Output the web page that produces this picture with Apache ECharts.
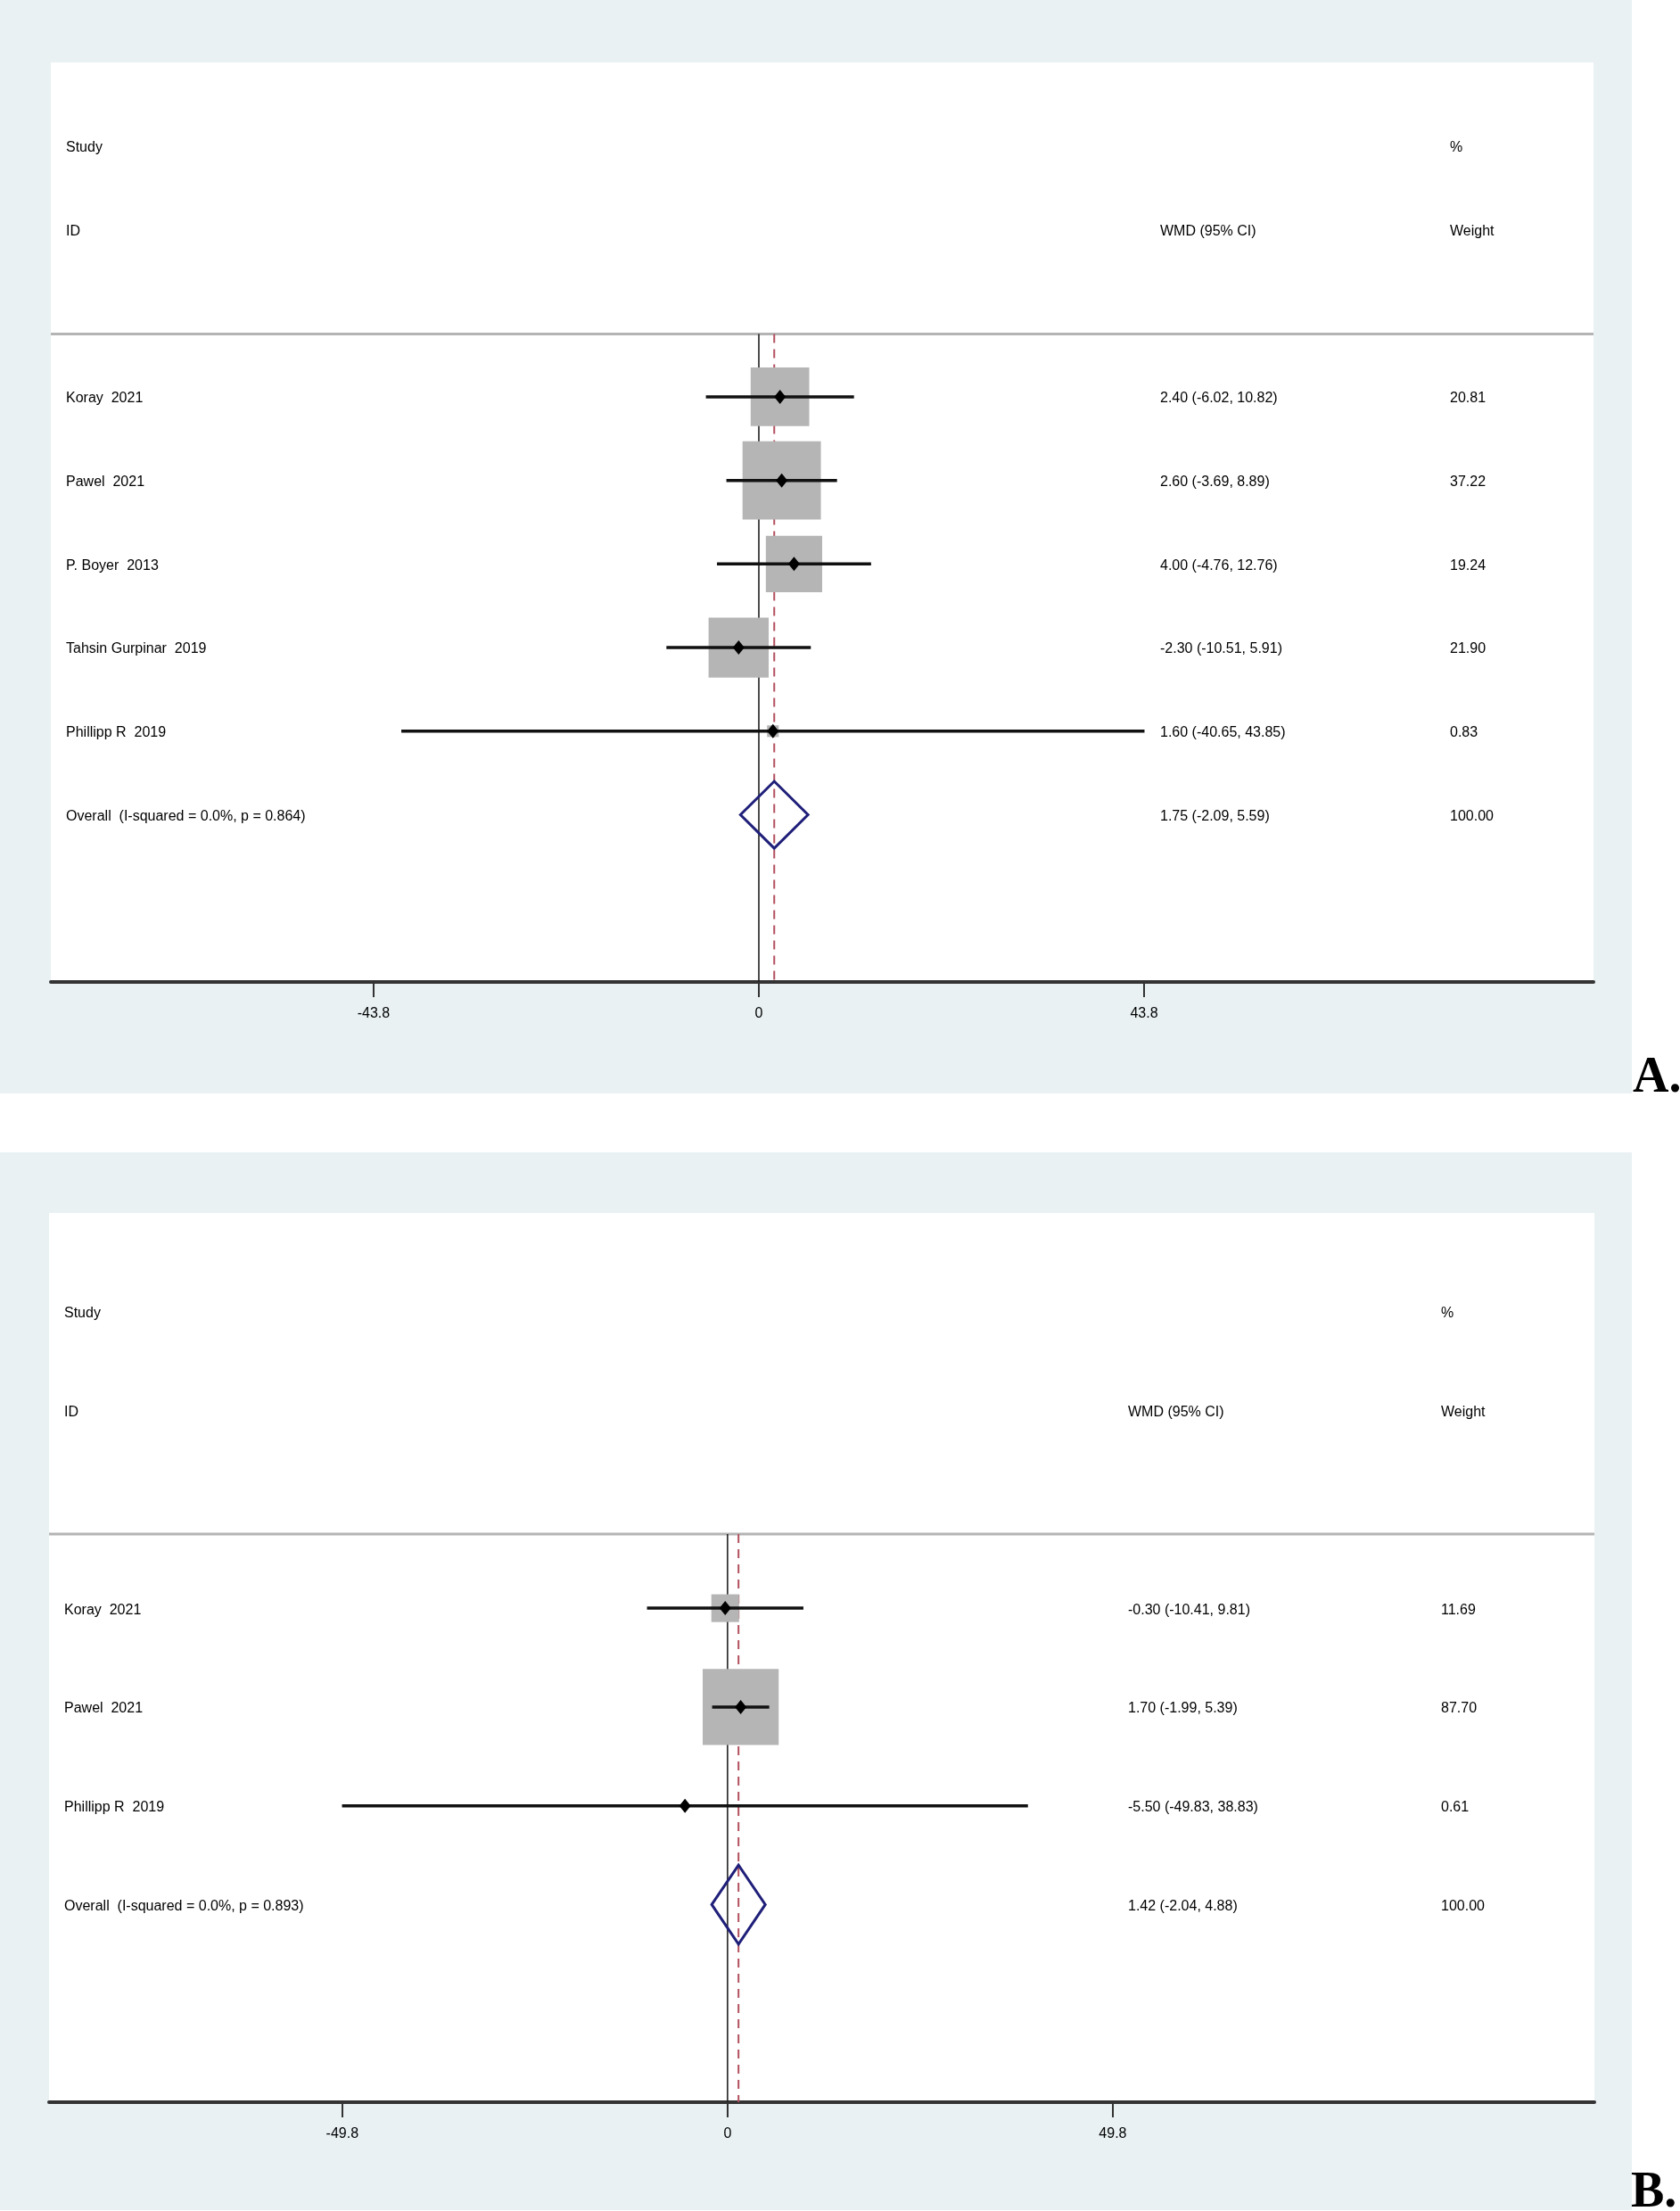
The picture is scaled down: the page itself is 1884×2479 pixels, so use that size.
<!DOCTYPE html>
<html>
<head>
<meta charset="utf-8">
<script src="https://cdn.jsdelivr.net/npm/echarts@6/dist/echarts.min.js"></script>
<style>
  html, body { margin: 0; padding: 0; background: #fff; }
  #chart { width: 1884px; height: 2479px; }
</style>
</head>
<body>
<div id="chart"></div>
<script>
// Panel A - five studies
const studiesA = ['Koray  2021', 'Pawel  2021', 'P. Boyer  2013', 'Tahsin Gurpinar  2019', 'Phillipp R  2019'];
const effectA = [2.40, 2.60, 4.00, -2.30, 1.60];
const lowerA = [-6.02, -3.69, -4.76, -10.51, -40.65];
const upperA = [10.82, 8.89, 12.76, 5.91, 43.85];
const weightA = [20.81, 37.22, 19.24, 21.90, 0.83];
const overallA = { label: 'Overall  (I-squared = 0.0%, p = 0.864)', est: 1.75, lo: -2.09, hi: 5.59, weight: 100.00 };
const ticksA = [-43.8, 0, 43.8];

// Panel B - three studies
const studiesB = ['Koray  2021', 'Pawel  2021', 'Phillipp R  2019'];
const effectB = [-0.30, 1.70, -5.50];
const lowerB = [-10.41, -1.99, -49.83];
const upperB = [9.81, 5.39, 38.83];
const weightB = [11.69, 87.70, 0.61];
const overallB = { label: 'Overall  (I-squared = 0.0%, p = 0.893)', est: 1.42, lo: -2.04, hi: 4.88, weight: 100.00 };
const ticksB = [-49.8, 0, 49.8];

const FONT = '"Liberation Sans", Arial, sans-serif';
const BG = '#e9f1f3';

// layout for each panel (pixels / axis ranges)
const panels = [
  {
    studies: studiesA, effect: effectA, lower: lowerA, upper: upperA, weight: weightA,
    overall: overallA, ticks: ticksA,
    grid: { left: 57, top: 70, width: 1730, height: 1031 },
    xMin: -80.5, xMax: 94.9, yMax: 10,
    boxScale: 14.4,
    colX: [74, 1301, 1626]
  },
  {
    studies: studiesB, effect: effectB, lower: lowerB, upper: upperB, weight: weightB,
    overall: overallB, ticks: ticksB,
    grid: { left: 55, top: 1360, width: 1733, height: 997 },
    xMin: -87.7, xMax: 112.05, yMax: 8,
    boxScale: 9.1,
    colX: [72, 1265, 1616]
  }
];

const SEP = 2.25; // row position of the header rule

const grids = [];
const xAxes = [];
const yAxes = [];
const series = [];

panels.forEach((p, k) => {
  grids.push({ ...p.grid, show: true, backgroundColor: '#fff', borderWidth: 0 });

  xAxes.push({
    gridIndex: k,
    type: 'value',
    min: p.xMin,
    max: p.xMax,
    splitLine: { show: false },
    axisLine: { show: true, onZero: false, lineStyle: { color: '#333', width: 4 } },
    axisTick: { show: true, customValues: p.ticks, length: 17, lineStyle: { color: '#333', width: 2 } },
    axisLabel: {
      customValues: p.ticks,
      formatter: (v) => String(v),
      fontSize: 16,
      fontFamily: FONT,
      color: '#000',
      margin: 28
    }
  });

  yAxes.push({ gridIndex: k, type: 'value', inverse: true, min: -1, max: p.yMax, show: false });

  const rows = p.studies.map((_, i) => 3 + i);
  const overallRow = 3 + p.studies.length;
  const base = { xAxisIndex: k, yAxisIndex: k, silent: true, animation: false };

  // header rule
  series.push({
    ...base, type: 'line', z: 1, symbol: 'none',
    data: [[p.xMin, SEP], [p.xMax, SEP]],
    lineStyle: { color: '#b4b4b4', width: 3 }
  });

  // no-effect line
  series.push({
    ...base, type: 'line', z: 2, symbol: 'none',
    data: [[0, SEP], [0, p.yMax]],
    lineStyle: { color: '#222', width: 1.6 }
  });

  // overall estimate dashed line
  series.push({
    ...base, type: 'line', z: 2, symbol: 'none',
    data: [[p.overall.est, SEP], [p.overall.est, p.yMax]],
    lineStyle: { color: '#b3505f', width: 2, type: [10, 7] }
  });

  // weight boxes
  series.push({
    ...base, type: 'scatter', z: 3, symbol: 'rect',
    symbolSize: (v) => Math.sqrt(v[2]) * p.boxScale,
    itemStyle: { color: '#b5b5b5', opacity: 1 },
    data: p.effect.map((e, i) => [e, rows[i], p.weight[i]])
  });

  // confidence intervals
  series.push({
    ...base, type: 'custom', z: 4,
    data: p.effect.map((e, i) => [p.lower[i], p.upper[i], rows[i]]),
    renderItem: (params, api) => {
      const a = api.coord([api.value(0), api.value(2)]);
      const b = api.coord([api.value(1), api.value(2)]);
      return {
        type: 'line',
        shape: { x1: a[0], y1: a[1], x2: b[0], y2: b[1] },
        style: { stroke: '#111', lineWidth: 3.5 }
      };
    }
  });

  // point estimates
  series.push({
    ...base, type: 'scatter', z: 5, symbol: 'diamond', symbolSize: [13, 16],
    itemStyle: { color: '#000', opacity: 1 },
    data: p.effect.map((e, i) => [e, rows[i]])
  });

  // pooled diamond
  series.push({
    ...base, type: 'custom', z: 4,
    data: [[p.overall.lo, p.overall.est, p.overall.hi, overallRow]],
    renderItem: (params, api) => {
      const y = api.value(3);
      const pts = [
        api.coord([api.value(0), y]),
        api.coord([api.value(1), y - 0.4]),
        api.coord([api.value(2), y]),
        api.coord([api.value(1), y + 0.4])
      ];
      return {
        type: 'polygon',
        shape: { points: pts },
        style: { fill: 'none', stroke: '#1f1f7a', lineWidth: 3 }
      };
    }
  });

  // text columns
  const fmt = (e, lo, hi) => `${e.toFixed(2)} (${lo.toFixed(2)}, ${hi.toFixed(2)})`;
  const textRows = [
    [0, 'Study', '', '%'],
    [1, 'ID', 'WMD (95% CI)', 'Weight']
  ];
  p.studies.forEach((s, i) => {
    textRows.push([rows[i], s, fmt(p.effect[i], p.lower[i], p.upper[i]), p.weight[i].toFixed(2)]);
  });
  textRows.push([overallRow, p.overall.label, fmt(p.overall.est, p.overall.lo, p.overall.hi), p.overall.weight.toFixed(2)]);

  series.push({
    ...base, type: 'custom', z: 6,
    data: textRows.map((r) => [0, r[0]]),
    renderItem: (params, api) => {
      const r = textRows[params.dataIndex];
      const y = api.coord([0, r[0]])[1] + 2;
      return {
        type: 'group',
        children: [1, 2, 3].map((c) => ({
          type: 'text',
          x: p.colX[c - 1],
          y: y,
          style: {
            text: r[c],
            fill: '#000',
            fontSize: 16,
            fontFamily: FONT,
            align: 'left',
            verticalAlign: 'middle'
          }
        }))
      };
    }
  });
});

const chart = echarts.init(document.getElementById('chart'), null, { renderer: 'canvas' });

chart.setOption({
  animation: false,
  backgroundColor: '#fff',
  grid: grids,
  xAxis: xAxes,
  yAxis: yAxes,
  series: series,
  graphic: [
    { type: 'rect', z: -10, silent: true, shape: { x: 0, y: 0, width: 1830, height: 1226 }, style: { fill: BG } },
    { type: 'rect', z: -10, silent: true, shape: { x: 0, y: 1292, width: 1830, height: 1186 }, style: { fill: BG } },
    { type: 'text', x: 1831, y: 1210, silent: true,
      style: { text: 'A.', fill: '#000', fontSize: 56, fontWeight: 'bold', fontFamily: '"Liberation Serif", "Times New Roman", serif', verticalAlign: 'middle' } },
    { type: 'text', x: 1829, y: 2460, silent: true,
      style: { text: 'B.', fill: '#000', fontSize: 56, fontWeight: 'bold', fontFamily: '"Liberation Serif", "Times New Roman", serif', verticalAlign: 'middle' } }
  ]
});
</script>
</body>
</html>
